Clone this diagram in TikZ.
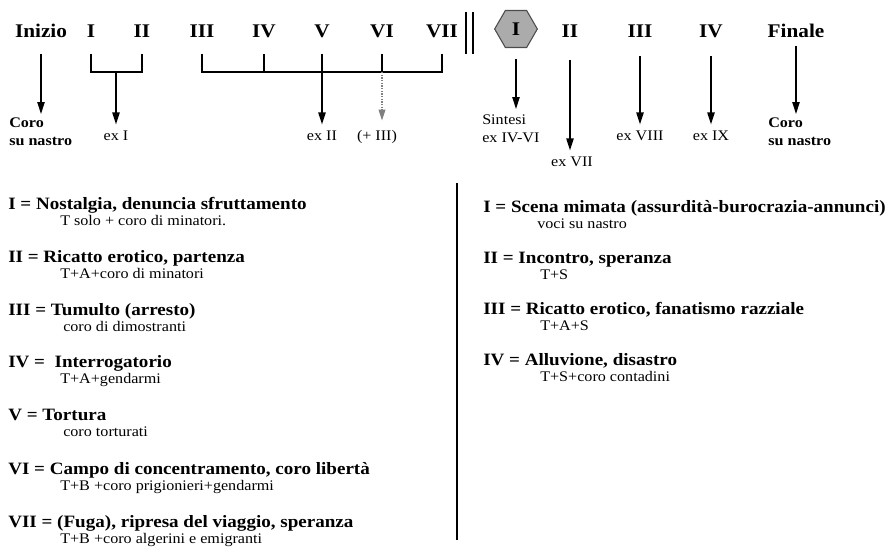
\documentclass[tikz,border=0pt]{standalone}
\usepackage{fontspec}
\setmainfont{Liberation Serif}[FakeStretch=1.1]
\usepackage{tikz}
\usetikzlibrary{positioning, arrows.meta, shapes.geometric}
\definecolor{hexgray}{RGB}{171,171,171}

\begin{document}
\begin{tikzpicture}[x=0.75pt, y=-0.75pt,
    lbl/.style={font=\bfseries\fontsize{14.5}{16}\selectfont, inner sep=0pt,
      text height=9.5pt, text depth=0pt},
    hexa/.style={regular polygon, regular polygon sides=6, minimum size=32pt,
      fill=hexgray, draw=black!70, line width=0.8pt, inner sep=0pt,
      font=\bfseries\fontsize{14.5}{16}\selectfont},
    note/.style={font=\fontsize{11}{13.5}\selectfont, inner xsep=0pt, inner ysep=4.5pt,
      text height=7.5pt, text depth=2pt, align=center},
    chor/.style={font=\bfseries\fontsize{11}{13.5}\selectfont, align=left,
      inner xsep=0pt, inner ysep=2.5pt, anchor=north west},
    head/.style={font=\bfseries\fontsize{13}{15}\selectfont, anchor=west,
      inner sep=0pt, text height=9pt, text depth=2.5pt},
    sub/.style={font=\fontsize{11}{13}\selectfont, anchor=west,
      inner sep=0pt, text height=8pt, text depth=2.5pt},
    ln/.style={line width=1pt},
    arr/.style={-{Triangle[width=5.5pt,length=9pt]}, line width=1pt},
    dotarr/.style={-{Triangle[width=5pt,length=8pt]}, line width=1pt, gray,
      dash pattern=on 1pt off 1pt}
  ]
    \useasboundingbox (0,0) rectangle (894,553);

    % prima parte
    \node[lbl] (ini) at (41,31)  {Inizio};
    \node[lbl] (a1)  at (91,31)  {I};
    \node[lbl] (a2)  at (142,31) {II};
    \node[lbl] (a3)  at (202,31) {III};
    \node[lbl] (a4)  at (264,31) {IV};
    \node[lbl] (a5)  at (322,31) {V};
    \node[lbl] (a6)  at (382,31) {VI};
    \node[lbl] (a7)  at (442,31) {VII};
    \coordinate (tk)  at (0,54);
    \coordinate (bar) at (0,72);

    \node[chor] (coro1) at (9,114) {Coro\\su nastro};
    \node[note] (ex1)   at (116,137) {ex I};
    \node[note] (ex2)   at (322,137) {ex II};
    \node[note] (plus3) at (377,137) {(+ III)};

    \draw[arr, shorten <=12pt] (ini.south) -- (ini.south |- coro1.north);
    \draw[ln] (a1 |- tk) -- (a1 |- bar) -| (a2 |- tk);
    \draw[arr] (ex1.north |- bar) -- (ex1.north);
    \draw[ln] (a3 |- tk) -- (a3 |- bar) -| (a7 |- tk);
    \draw[ln] (a4 |- tk) -- (a4 |- bar);
    \draw[ln] (a6 |- tk) -- (a6 |- bar);
    \draw[arr] (a5 |- tk) -- (ex2.north);
    \draw[dotarr, shorten >=3pt] (a6 |- bar) -- (a6 |- plus3.north);

    % separazione
    \draw[line width=1.2pt] (466,12) -- (466,54);
    \draw[line width=1.2pt] (473,12) -- (473,54);

    % seconda parte
    \node[hexa] (b1)  at (516,29) {I};
    \node[lbl]  (b2)  at (570,31) {II};
    \node[lbl]  (b3)  at (640,31) {III};
    \node[lbl]  (b4)  at (711,31) {IV};
    \node[lbl]  (fin) at (796,31) {Finale};

    \node[chor, font=\fontsize{11}{13.5}\selectfont, inner ysep=4pt] (sint) at (482,109)
      {Sintesi\\ex IV-VI};
    \node[note] (ex7) at (572,163) {ex VII};
    \node[note] (ex8) at (640,137) {ex VIII};
    \node[note] (ex9) at (711,137) {ex IX};
    \node[chor] (coro2) at (768,114) {Coro\\su nastro};

    \draw[arr, shorten <=8pt]   (b1.south) -- (b1.south |- sint.north);
    \draw[arr, shorten <=17pt]  (b2.south) -- (b2.south |- ex7.north);
    \draw[arr, shorten <=14pt]  (b3.south) -- (ex8.north);
    \draw[arr, shorten <=14pt]  (b4.south) -- (ex9.north);
    \draw[arr, shorten <=6pt]   (fin.south) -- (fin.south |- coro2.north);

    % legenda
    \node[head] (l1) at (8,205) {I = Nostalgia, denuncia sfruttamento};
    \node[sub]  (l1s) at (60,222) {T solo + coro di minatori.};
    \node[head] (l2) at (8,258) {II = Ricatto erotico, partenza};
    \node[sub]  (l2s) at (60,275) {T+A+coro di minatori};
    \node[head] (l3) at (8,311) {III = Tumulto (arresto)};
    \node[sub]  (l3s) at (63,328) {coro di dimostranti};
    \node[head] (l4) at (8,363) {IV = \ Interrogatorio};
    \node[sub]  (l4s) at (60,380) {T+A+gendarmi};
    \node[head] (l5) at (8,416) {V = Tortura};
    \node[sub]  (l5s) at (63,433) {coro torturati};
    \node[head] (l6) at (8,470) {VI = Campo di concentramento, coro libertà};
    \node[sub]  (l6s) at (60,487) {T+B +coro prigionieri+gendarmi};
    \node[head] (l7) at (8,523) {VII = (Fuga), ripresa del viaggio, speranza};
    \node[sub]  (l7s) at (60,540) {T+B +coro algerini e emigranti};

    \draw[line width=1.5pt] (457,183) -- (457,540);

    \node[head] (r1) at (483,208) {I = Scena mimata (assurdità-burocrazia-annunci)};
    \node[sub]  (r1s) at (537,225) {voci su nastro};
    \node[head] (r2) at (483,259) {II = Incontro, speranza};
    \node[sub]  (r2s) at (540,276) {T+S};
    \node[head] (r3) at (483,310) {III = Ricatto erotico, fanatismo razziale};
    \node[sub]  (r3s) at (540,327) {T+A+S};
    \node[head] (r4) at (483,361) {IV = Alluvione, disastro};
    \node[sub]  (r4s) at (540,378) {T+S+coro contadini};
  \end{tikzpicture}
\end{document}
